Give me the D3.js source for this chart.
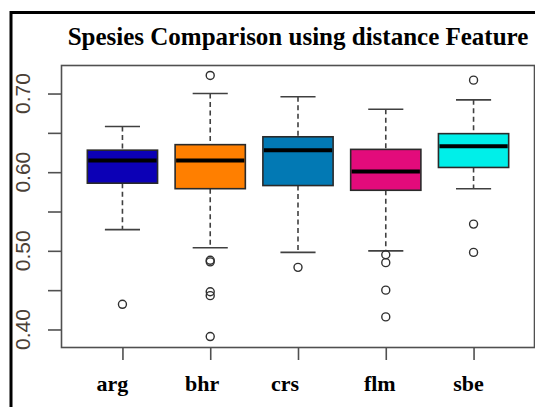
<!DOCTYPE html>
<html>
<head>
<meta charset="utf-8">
<script src="https://cdn.jsdelivr.net/npm/d3@7"></script>
<style>
  body { margin: 0; background: #fff; }
  svg { display: block; }
</style>
</head>
<body>
<div id="plot"></div>
<script>
// Values
const species = ['arg', 'bhr', 'crs', 'flm', 'sbe'];
const lowerWhisker = [0.527, 0.504, 0.498, 0.500, 0.579];
const lowerQuartile = [0.586, 0.579, 0.583, 0.577, 0.606];
const medians = [0.615, 0.615, 0.628, 0.601, 0.633];
const upperQuartile = [0.628, 0.635, 0.645, 0.629, 0.649];
const upperWhisker = [0.658, 0.700, 0.696, 0.680, 0.692];
const outliers = [
  [0.432],
  [0.723, 0.488, 0.486, 0.448, 0.443, 0.391],
  [0.479],
  [0.495, 0.485, 0.450, 0.416],
  [0.717, 0.534, 0.498]
];
const yTicks = [0.40, 0.45, 0.50, 0.55, 0.60, 0.65, 0.70];
const yTickLabels = ['0.40', '', '0.50', '', '0.60', '', '0.70'];
const title = 'Spesies Comparison using distance Feature';

const boxColors = ['#0c00b6', '#ff7f00', '#0279b4', '#e30b7b', '#00efe9'];
// the category labels sit a little left of their ticks in the original
const labelNudge = [-10, -8, -13, -6, -5];

const W = 535, H = 407;
const box = {left: 61, top: 65, right: 535, bottom: 347};

const svg = d3.select('#plot')
      .append('svg')
      .attr('width', W)
      .attr('height', H);

// outer frame (only left and top edges are visible in the crop)
svg.append('path')
  .attr('d', `M11,${H} V12.5 H${W}`)
  .style('fill', 'none')
  .style('stroke', '#000')
  .style('stroke-width', 3);

// R style scales: categories at 1..n, 4% padding on y
const xScale = d3.scaleLinear()
      .domain([0.3, species.length + 0.7])
      .range([box.left, box.right]);
const allValues = [...lowerWhisker, ...upperWhisker, ...outliers.flat()];
const [lo, hi] = d3.extent(allValues);
const pad = (hi - lo) * 0.04;
const yScale = d3.scaleLinear()
      .domain([lo - pad, hi + pad])
      .range([box.bottom, box.top]);

const bw = (xScale(2) - xScale(1)) * 0.8;
const stapleW = bw * 0.5;

// plot box
svg.append('rect')
  .attr('x', box.left + 0.5)
  .attr('y', box.top + 0.5)
  .attr('width', box.right - box.left - 1)
  .attr('height', box.bottom - box.top)
  .style('fill', 'none')
  .style('stroke', '#505050')
  .style('stroke-width', 1.6);

// y axis
const yAxis = d3.axisLeft(yScale)
      .tickValues(yTicks)
      .tickSize(13)
      .tickFormat('');
const yg = svg.append('g')
      .attr('transform', `translate(${box.left},0)`)
      .call(yAxis);
yg.select('.domain').remove();
yg.selectAll('.tick line')
  .style('stroke', '#505050')
  .style('stroke-width', 1.6);
svg.append('g')
  .selectAll('text')
  .data(yTicks)
  .enter().append('text')
  .attr('transform', d => `translate(29.5,${yScale(d)}) rotate(-90)`)
  .attr('text-anchor', 'middle')
  .style('font-family', '"Liberation Sans", Arial, sans-serif')
  .style('font-size', '21px')
  .style('fill', '#4a4036')
  .text((_, i) => yTickLabels[i]);

// x axis
const xAxis = d3.axisBottom(xScale)
      .tickValues(species.map((_, i) => i + 1))
      .tickSize(13)
      .tickFormat('');
const xg = svg.append('g')
      .attr('transform', `translate(0,${box.bottom})`)
      .call(xAxis);
xg.select('.domain').remove();
xg.selectAll('.tick line')
  .style('stroke', '#505050')
  .style('stroke-width', 1.6);
svg.append('g')
  .selectAll('text')
  .data(species)
  .enter().append('text')
  .attr('x', (_, i) => xScale(i + 1) + labelNudge[i])
  .attr('y', 391)
  .attr('text-anchor', 'middle')
  .style('font-family', '"Liberation Serif", "Times New Roman", serif')
  .style('font-weight', 'bold')
  .style('font-size', '22px')
  .style('fill', '#000')
  .text(d => d);

// title
svg.append('text')
  .attr('x', (box.left + box.right) / 2)
  .attr('y', 45)
  .attr('text-anchor', 'middle')
  .style('font-family', '"Liberation Serif", "Times New Roman", serif')
  .style('font-weight', 'bold')
  .style('font-size', '25px')
  .style('fill', '#000')
  .text(title);

// boxes
const groups = svg.append('g')
      .selectAll('g')
      .data(species)
      .enter().append('g')
      .attr('transform', (_, i) => `translate(${xScale(i + 1)},0)`);

// whiskers (dashed)
groups.append('line')
  .attr('y1', (_, i) => yScale(upperWhisker[i]))
  .attr('y2', (_, i) => yScale(upperQuartile[i]))
  .style('stroke', '#404040')
  .style('stroke-width', 1.6)
  .style('stroke-dasharray', '5,3.5');
groups.append('line')
  .attr('y1', (_, i) => yScale(lowerQuartile[i]))
  .attr('y2', (_, i) => yScale(lowerWhisker[i]))
  .style('stroke', '#404040')
  .style('stroke-width', 1.6)
  .style('stroke-dasharray', '5,3.5');
// staples
for (const arr of [upperWhisker, lowerWhisker]) {
  groups.append('line')
    .attr('x1', -stapleW / 2)
    .attr('x2', stapleW / 2)
    .attr('y1', (_, i) => yScale(arr[i]))
    .attr('y2', (_, i) => yScale(arr[i]))
    .style('stroke', '#404040')
    .style('stroke-width', 1.6);
}
groups.append('rect')
  .attr('x', -bw / 2)
  .attr('width', bw)
  .attr('y', (_, i) => yScale(upperQuartile[i]))
  .attr('height', (_, i) => yScale(lowerQuartile[i]) - yScale(upperQuartile[i]))
  .style('fill', (_, i) => boxColors[i])
  .style('stroke', '#2a2a2a')
  .style('stroke-width', 1.6);
groups.append('line')
  .attr('x1', -bw / 2 + 1)
  .attr('x2', bw / 2 - 1)
  .attr('y1', (_, i) => yScale(medians[i]))
  .attr('y2', (_, i) => yScale(medians[i]))
  .style('stroke', '#000')
  .style('stroke-width', 4);
// outliers
groups.selectAll('circle')
  .data((_, i) => outliers[i])
  .enter().append('circle')
  .attr('cy', d => yScale(d))
  .attr('r', 4)
  .style('fill', 'none')
  .style('stroke', '#303030')
  .style('stroke-width', 1.4);
</script>
</body>
</html>
